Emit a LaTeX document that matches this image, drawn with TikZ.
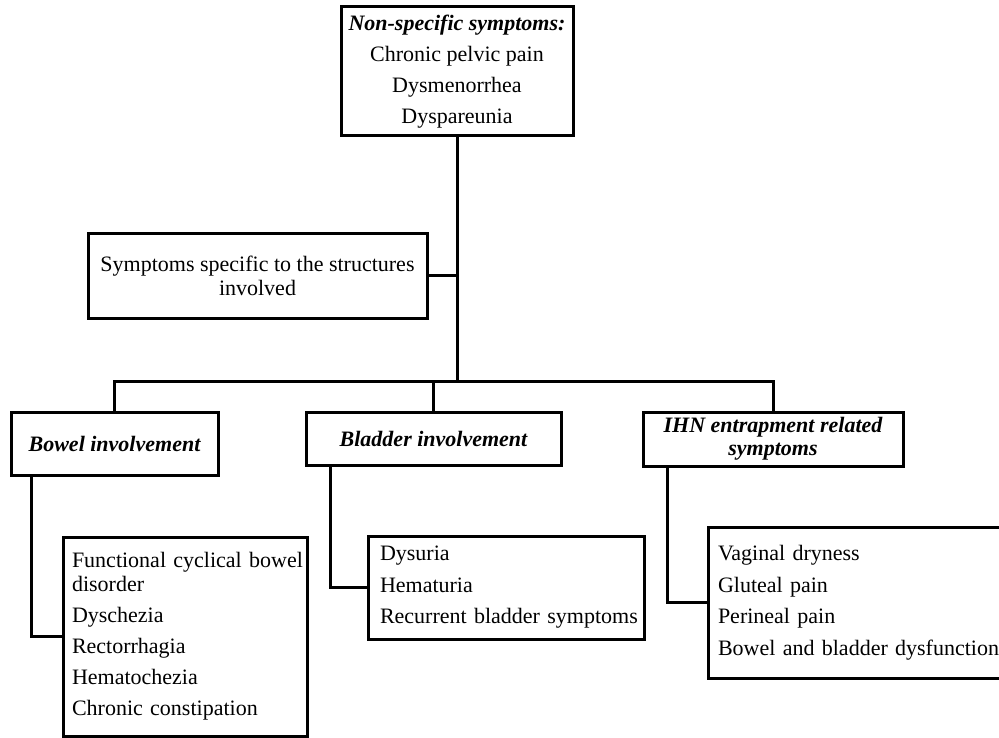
\documentclass[tikz,border=0pt]{standalone}
\usepackage{fontspec}
\setmainfont{Liberation Serif}
\begin{document}
\begin{tikzpicture}[x=1pt,y=-1pt,
  box/.style={draw, line width=3pt, inner sep=0pt, align=center,
    font=\fontsize{22}{24}\selectfont},
  head/.style={box, font=\fontsize{22}{23}\selectfont\bfseries\itshape},
  listbox/.style={box, align=left},
  link/.style={line width=3pt}]
\useasboundingbox (0,0) rectangle (999,738);
\node[box, minimum width=232pt, minimum height=129pt] (top) at (457,71.5)
  {{\bfseries\itshape Non-specific symptoms:}\\[7pt]Chronic pelvic pain\\[7pt]Dysmenorrhea\\[7pt]Dyspareunia};
\node[box, minimum width=339pt, minimum height=84pt] (spec) at (257.5,276)
  {Symptoms specific to the structures\\involved};
\node[head, minimum width=207pt, minimum height=63pt] (bowel) at (114.5,443.5)
  {Bowel involvement};
\node[head, minimum width=255pt, minimum height=53pt] (bladder) at (433.5,438.5)
  {Bladder involvement};
\node[head, minimum width=260pt, minimum height=54pt] (ihn) at (773,439)
  {IHN entrapment related\\symptoms};
\node[listbox, text width=226pt, minimum width=244pt, minimum height=199pt] (bowlist) at (185,636.5)
  {\mbox{Functional cyclical bowel}\\disorder\\[7pt]Dyschezia\\[7pt]Rectorrhagia\\[7pt]Hematochezia\\[7pt]\mbox{Chronic constipation}};
\node[listbox, text width=252pt, minimum width=276pt, minimum height=103pt] (bladlist) at (506,587.5)
  {Dysuria\\[7.5pt]Hematuria\\[7.5pt]\mbox{Recurrent bladder symptoms}};
\node[listbox, text width=290pt, minimum width=310pt, minimum height=151pt] (ihnlist) at (863,602.5)
  {Vaginal dryness\\[7.5pt]Gluteal pain\\[7.5pt]Perineal pain\\[7.5pt]\mbox{Bowel and bladder dysfunction}};
\coordinate (j) at (457,381);
\draw[link] (top.south) -- (j);
\draw[link] (spec.east) -- (spec.east -| j);
\draw[link] (bowel.north) |- (j) -| (ihn.north);
\draw[link] (bladder.north) -- (bladder.north |- j);
\draw[link] ([xshift=22pt]bowel.south west) |- (bowlist.west);
\draw[link] ([xshift=26pt]bladder.south west) |- (bladlist.west);
\draw[link] ([xshift=26pt]ihn.south west) |- (ihnlist.west);
\end{tikzpicture}
\end{document}
